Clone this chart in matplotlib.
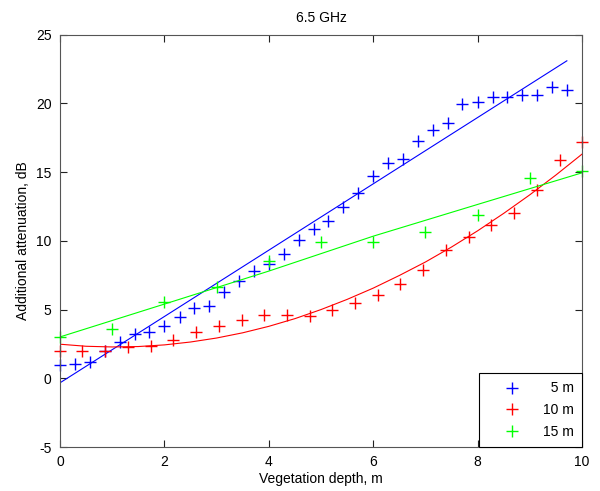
import matplotlib
matplotlib.use('Agg')
import matplotlib.pyplot as plt

# measured points, 5 m / 10 m / 15 m
blue_x = [0, 0.29, 0.57, 0.86, 1.14, 1.43, 1.71, 2.0, 2.29, 2.57, 2.86, 3.14,
          3.43, 3.71, 4.0, 4.29, 4.57, 4.86, 5.14, 5.43, 5.71, 6.0, 6.29, 6.57,
          6.86, 7.14, 7.43, 7.71, 8.0, 8.29, 8.57, 8.86, 9.14, 9.43, 9.71]
blue_y = [0.98, 1.03, 1.22, 1.95, 2.65, 3.2, 3.38, 3.84, 4.47, 5.15, 5.25, 6.27,
          7.09, 7.79, 8.3, 9.03, 10.05, 10.87, 11.46, 12.43, 13.45, 14.71, 15.68, 15.97,
          17.28, 18.05, 18.54, 19.95, 20.09, 20.48, 20.44, 20.58, 20.63, 21.16, 20.97]

red_x = [0, 0.43, 0.87, 1.3, 1.74, 2.17, 2.61, 3.04, 3.48, 3.91, 4.35, 4.78,
         5.22, 5.65, 6.09, 6.52, 6.96, 7.39, 7.83, 8.26, 8.7, 9.13, 9.57, 10.0]
red_y = [2.0, 2.0, 2.0, 2.29, 2.33, 2.77, 3.35, 3.79, 4.25, 4.61, 4.61, 4.52,
         4.96, 5.49, 6.07, 6.85, 7.87, 9.32, 10.25, 11.12, 12.04, 13.69, 15.87, 17.18]

green_x = [0, 1, 2, 3, 4, 5, 6, 7, 8, 9, 10]
green_y = [2.97, 3.6, 5.54, 6.61, 8.5, 9.95, 9.95, 10.68, 11.85, 14.61, 15.09]

# fitted curves
blue_fit_x = [0, 9.71]
blue_fit_y = [-0.33, 23.1]
red_fit_x = [0, 0.5, 1, 1.5, 2, 2.5, 3, 3.5, 4, 4.5, 5, 5.5, 6, 6.5, 7,
             7.5, 8, 8.5, 9, 9.5, 10]
red_fit_y = [2.48, 2.33, 2.28, 2.31, 2.43, 2.64, 2.93, 3.31, 3.78, 4.34, 5.0,
             5.74, 6.56, 7.48, 8.46, 9.55, 10.73, 12.0, 13.35, 14.79, 16.31]
green_fit_x = [0, 2, 4, 6, 8, 10]
green_fit_y = [3.01, 5.4, 7.8, 10.34, 12.65, 14.95]

labels = ['  5 m', '10 m', '15 m']

plt.rcParams['font.family'] = ['Liberation Sans', 'DejaVu Sans']
plt.rcParams['font.size'] = 10
plt.rcParams['axes.unicode_minus'] = False

fig = plt.figure(figsize=(6, 4.91), dpi=100)
ax = fig.add_axes([0.1, 0.0896, 0.87, 0.8397])

ms = dict(marker='+', linestyle='none', markersize=9, markeredgewidth=1, clip_on=False)
ax.plot(blue_x, blue_y, color='#0000ff', label=labels[0], **ms)
ax.plot(blue_fit_x, blue_fit_y, color='#0000ff', linewidth=0.8)
ax.plot(red_x, red_y, color='#ff0000', label=labels[1], **ms)
ax.plot(red_fit_x, red_fit_y, color='#ff0000', linewidth=0.8)
ax.plot(green_x, green_y, color='#00ff00', label=labels[2], **ms)
ax.plot(green_fit_x, green_fit_y, color='#00ff00', linewidth=0.8)

ax.set_xlim(0, 10)
ax.set_ylim(-5, 25)
ax.set_xticks([0, 2, 4, 6, 8, 10])
ax.set_yticks([-5, 0, 5, 10, 15, 20, 25])
ax.tick_params(direction='in', top=True, right=True, length=5, width=0.8,
               labelsize=10, pad=6, colors='#222222', labelcolor='black')
for s in ax.spines.values():
    s.set_color('#555555')
    s.set_linewidth(0.8)

ax.set_title('6.5 GHz', fontsize=10, pad=9)
ax.set_xlabel('Vegetation depth, m', fontsize=10, labelpad=2)
ax.set_ylabel('Additional attenuation, dB', fontsize=10, labelpad=4)

leg = ax.legend(loc='lower right', bbox_to_anchor=(1, 0), borderaxespad=0,
                fancybox=False, framealpha=1, edgecolor='black',
                numpoints=1, handlelength=3.6, handletextpad=0.4,
                borderpad=0.6, labelspacing=0.55, fontsize=10, markerscale=0.9)
leg.get_frame().set_linewidth(0.8)
leg.set_zorder(5)

fig.savefig('out.png', dpi=100)
